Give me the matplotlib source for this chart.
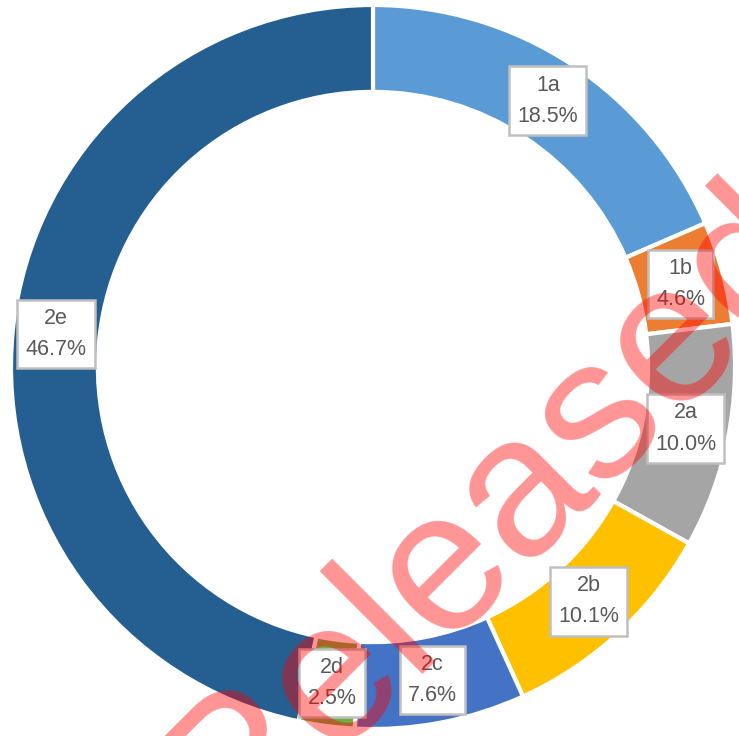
import matplotlib
matplotlib.use("Agg")
import matplotlib.pyplot as plt
import numpy as np

categories = ["1a", "1b", "2a", "2b", "2c", "2d", "2e"]
values = [18.5, 4.6, 10.0, 10.1, 7.6, 2.5, 46.7]
colors = ["#5B9BD5", "#ED7D31", "#A5A5A5", "#FFC000", "#4472C4", "#70AD47", "#255E91"]
watermark = "Released"

W, H = 739, 736
cx, cy, R = 373, 367, 362

fig = plt.figure(figsize=(W / 100, H / 100), dpi=100)
ax = fig.add_axes([0, 0, 1, 1])
ax.axis("off")

width = 0.24
wedges, _ = ax.pie(values, colors=colors, startangle=90, counterclock=False,
                   radius=1.0, wedgeprops=dict(width=width, edgecolor="white", linewidth=3),
                   frame=False)
ax.set_xlim(-cx / R, (W - cx) / R)
ax.set_ylim(-(H - cy) / R, cy / R)
ax.set_aspect("auto")

rmid = 1 - width / 2
for w, cat, v in zip(wedges, categories, values):
    ang = np.deg2rad((w.theta1 + w.theta2) / 2)
    x, y = rmid * np.cos(ang), rmid * np.sin(ang)
    ax.text(x, y, f"{cat}\n{v:.1f}%", ha="center", va="center", fontsize=15.5,
            family="Liberation Sans", color="#595959", linespacing=1.65, zorder=5,
            bbox=dict(boxstyle="square,pad=0.38", fc="white", ec="#BFBFBF", lw=1.8))

wx, wy = 491, 516
ax.text((wx - cx) / R, (cy - wy) / R, watermark, rotation=45, rotation_mode="anchor",
        ha="center", va="center", fontsize=144, family="Liberation Sans",
        color="red", alpha=0.42, zorder=10)

fig.savefig("out.png", dpi=100)
